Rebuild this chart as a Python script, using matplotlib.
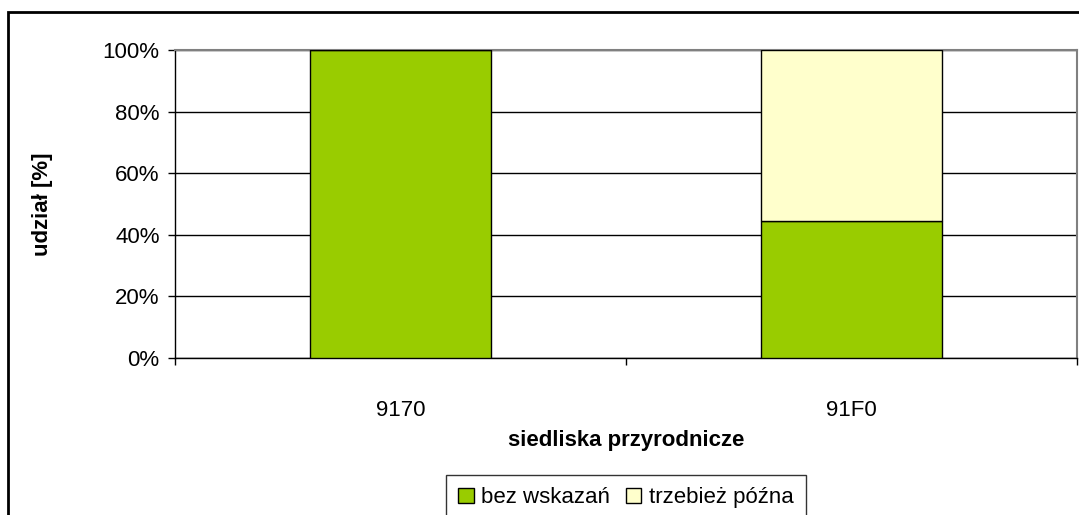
import numpy as np
import matplotlib.pyplot as plt
from matplotlib.patches import Rectangle, Patch
from matplotlib.ticker import FixedLocator

plt.rcParams["font.family"] = ["Liberation Sans", "DejaVu Sans"]
plt.rcParams["font.size"] = 16

# data (share in %)
categories = ['9170', '91F0']
bez_wskazan = [100.0, 44.4]
trzebiez_pozna = [0.0, 55.6]
series_names = ['bez wskazań', 'trzebież późna']
colors = ['#99CC00', '#FFFFCC']

W, H = 1079, 515
fig = plt.figure(figsize=(W/100, H/100), dpi=100)
ax = fig.add_axes([175/W, 1 - 358/H, (1077 - 175)/W, (358 - 50)/H])

x = np.arange(len(categories))
ax.bar(x, bez_wskazan, width=0.4, color=colors[0], edgecolor='black',
       linewidth=1, zorder=3)
ax.bar(x, trzebiez_pozna, width=0.4, bottom=bez_wskazan, color=colors[1],
       edgecolor='black', linewidth=1, zorder=3)

ax.set_xlim(-0.5, len(categories) - 0.5)
ax.set_ylim(0, 100)
ax.set_yticks(np.arange(0, 101, 20))
ax.set_yticklabels(['%d%%' % v for v in range(0, 101, 20)])
ax.yaxis.grid(True, color='black', linewidth=1)
ax.set_axisbelow(True)

# category boundaries as tick marks, labels centred between them
ax.xaxis.set_major_locator(FixedLocator(np.arange(-0.5, len(categories), 1)))
ax.set_xticklabels([])
ax.xaxis.set_minor_locator(FixedLocator(x))
ax.set_xticklabels(categories, minor=True)
ax.tick_params(axis='x', which='minor', length=0, pad=30)
ax.tick_params(axis='x', which='major', direction='out', length=5, width=1)
ax.tick_params(axis='y', direction='out', length=5, width=1, pad=6)

for s in ['top', 'right']:
    ax.spines[s].set_color('#808080')
    ax.spines[s].set_linewidth(1.5)
for s in ['left', 'bottom']:
    ax.spines[s].set_color('black')
    ax.spines[s].set_linewidth(1)

ax.set_xlabel('siedliska przyrodnicze', fontweight='bold', labelpad=7)
ax.set_ylabel('udział [%]', fontweight='bold', labelpad=36)

handles = [Patch(facecolor=c, edgecolor='black', linewidth=1) for c in colors]
leg = fig.legend(handles, series_names, loc='upper center',
                 bbox_to_anchor=(626/W, 1 - 475/H), ncol=2, frameon=True,
                 fancybox=False, edgecolor='black', handlelength=0.7,
                 handleheight=0.7, handletextpad=0.35, columnspacing=0.7,
                 borderpad=0.55, borderaxespad=0)
leg.get_frame().set_linewidth(1)

# outer chart border (right and bottom edges lie outside the image)
fig.patches.append(Rectangle((8/W, -0.2), 1.2, 1.2 - 12/H, fill=False,
                             edgecolor='black', linewidth=2,
                             transform=fig.transFigure, figure=fig))

fig.savefig('out.png', dpi=100)
